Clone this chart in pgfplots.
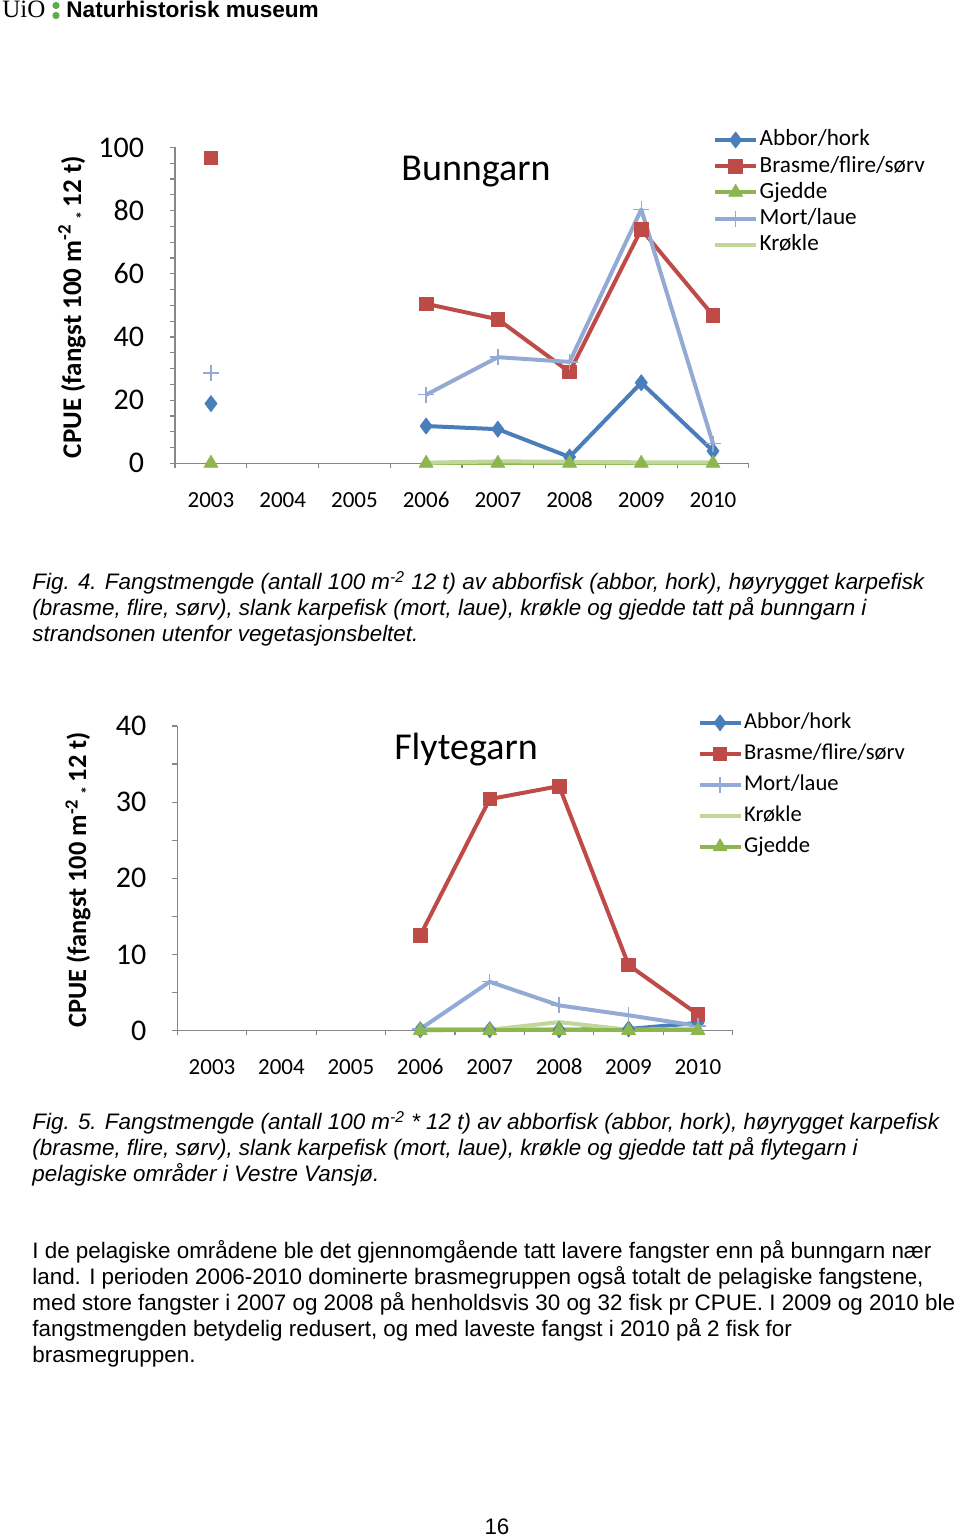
\documentclass[border=0pt]{standalone}
\usepackage{fontspec}
\setmainfont{Liberation Sans}
\newfontfamily\calfont{Carlito}
\newfontfamily\uiofont{Liberation Serif}
\usepackage{pgfplots}
\pgfplotsset{compat=1.18}
\usepackage{pgfplotstable}

\definecolor{abbor}{HTML}{4A7EBB}
\definecolor{brasme}{HTML}{BE4B48}
\definecolor{gjedde}{HTML}{8DB64E}
\definecolor{mort}{HTML}{93AAD4}
\definecolor{krokle}{HTML}{C0D69A}
\definecolor{axisgray}{HTML}{878787}
\definecolor{uiogreen}{HTML}{5DAE45}

\pgfplotstableread{
year abbor brasme gjedde mort krokle
2003 18.9 96.7 0 28.6 nan
2004 nan nan nan nan nan
2005 nan nan nan nan nan
2006 11.8 50.5 0 21.7 0.2
2007 10.8 45.6 0 33.6 0.6
2008 2.0 28.9 0 32.1 0.5
2009 25.5 74.1 0 80.4 0.3
2010 3.9 46.8 0 6.2 0.3
}\bunn

\pgfplotstableread{
year abbor brasme mort krokle gjedde
2006 0.1 12.5 0.2 0.0 0
2007 0.1 30.4 6.4 0.1 0
2008 0.1 32.1 3.3 1.1 0
2009 0.2 8.6 2.0 0.1 0
2010 1.0 2.1 0.6 0.2 0
}\flyt

\pgfplotsset{
  excel/.style={
    scale only axis,
    axis lines=left,
    axis line style={draw=axisgray, line width=0.6pt, -},
    tick align=outside,
    tick style={draw=axisgray, line width=0.6pt},
    major tick length=2.5pt,
    minor tick length=2.5pt,
    xmin=2002.5, xmax=2010.5,
    xtick={2002.5,2003.5,2004.5,2005.5,2006.5,2007.5,2008.5,2009.5,2010.5},
    xticklabels={},
    extra x ticks={2003,2004,2005,2006,2007,2008,2009,2010},
    extra x tick labels={2003,2004,2005,2006,2007,2008,2009,2010},
    extra x tick style={grid=none, major tick length=0pt,
      xticklabel style={font=\calfont\fontsize{11.5}{13}\selectfont, yshift=-11pt, text height=7.4pt, text depth=0pt}},
    yticklabel style={font=\calfont\fontsize{15}{17}\selectfont, xshift=-9.5pt},
    ymin=0,
    clip=false,
    unbounded coords=jump,
    legend cell align=left,
    legend image code/.code={\draw[mark repeat=2,mark phase=2] plot coordinates {(0pt,0pt) (10.25pt,0pt) (20.5pt,0pt)};},
    every axis plot/.append style={line join=round},
  },
  sAbbor/.style={color=abbor, line width=2pt, mark=diamond*, mark size=4pt, mark options={solid, fill=abbor, line width=0.4pt}},
  sBrasme/.style={color=brasme, line width=2pt, mark=square*, mark size=3.4pt, mark options={solid, fill=brasme, line width=0.4pt}},
  sGjedde/.style={color=gjedde, line width=2pt, mark=triangle*, mark size=4pt, mark options={solid, fill=gjedde, line width=0.4pt}},
  sMort/.style={color=mort, line width=2pt, mark=+, mark size=4pt, mark options={solid, line width=0.7pt}},
  sKrokle/.style={color=krokle, line width=2pt, mark=none},
}

\begin{document}
\begin{tikzpicture}
\path[use as bounding box] (0,0) rectangle (480pt,769.5pt);
\begin{scope}[x=0.5pt,y=-0.5pt,shift={(0pt,769.5pt)}]
  % header
  \node[anchor=base west, inner sep=0pt, font=\uiofont\fontsize{12.5}{14}\selectfont] at (2,18) {UiO};
  \fill[uiogreen] (56,5.5) circle (3.6);
  \fill[uiogreen] (56,15.5) circle (3.6);
  \node[anchor=base west, inner sep=0pt, font=\bfseries\fontsize{11.3}{13}\selectfont] at (66,18) {Naturhistorisk museum};
  % chart titles and y labels
  \node[font=\calfont\fontsize{19}{22}\selectfont] at (476,172) {Bunngarn};
  \node[font=\calfont\fontsize{19}{22}\selectfont] at (466,750) {Flytegarn};
  \node[rotate=90, font=\calfont\bfseries\fontsize{13.5}{15}\selectfont] at (73,307) {CPUE (fangst 100 m\textsuperscript{-2}\,\raisebox{-0.5ex}{\footnotesize *}\,12 t)};
  \node[rotate=90, font=\calfont\bfseries\fontsize{13.2}{15}\selectfont] at (79,880) {CPUE (fangst 100 m\textsuperscript{-2}\,\raisebox{-0.5ex}{\footnotesize *}\,12 t)};
  % captions
  \begin{scope}[every node/.style={anchor=base west, inner sep=0pt, font=\itshape\fontsize{11.2}{13}\selectfont}]
    \node at (32,590) {Fig. 4. Fangstmengde (antall 100 m\textsuperscript{-2} 12 t) av abborfisk (abbor, hork), høyrygget karpefisk};
    \node at (32,616) {(brasme, flire, sørv), slank karpefisk (mort, laue), krøkle og gjedde tatt på bunngarn i};
    \node at (32,642) {strandsonen utenfor vegetasjonsbeltet.};
    \node at (32,1130) {Fig. 5. Fangstmengde (antall 100 m\textsuperscript{-2} * 12 t) av abborfisk (abbor, hork), høyrygget karpefisk};
    \node at (32,1156) {(brasme, flire, sørv), slank karpefisk (mort, laue), krøkle og gjedde tatt på flytegarn i};
    \node at (32,1182) {pelagiske områder i Vestre Vansjø.};
  \end{scope}
  \begin{scope}[every node/.style={anchor=base west, inner sep=0pt, font=\fontsize{11.2}{13}\selectfont}]
    \node at (32,1259) {I de pelagiske områdene ble det gjennomgående tatt lavere fangster enn på bunngarn nær};
    \node at (32,1285) {land. I perioden 2006-2010 dominerte brasmegruppen også totalt de pelagiske fangstene,};
    \node at (32,1311) {med store fangster i 2007 og 2008 på henholdsvis 30 og 32 fisk pr CPUE. I 2009 og 2010 ble};
    \node at (32,1337) {fangstmengden betydelig redusert, og med laveste fangst i 2010 på 2 fisk for};
    \node at (32,1363) {brasmegruppen.};
  \end{scope}
  \node[anchor=base, inner sep=0pt, font=\fontsize{11.2}{13}\selectfont] at (497,1535) {16};
\end{scope}

% Chart 1: Bunngarn
\begin{axis}[excel,
  at={(87.55pt,537.85pt)}, anchor=south west,
  width=286.9pt, height=157.9pt,
  ymax=100,
  ytick={0,20,40,60,80,100},
  yticklabels={0,20,40,60,80,100},
  minor y tick num=3,
  legend style={draw=none, fill=none, at={(axis description cs:0.937,1.060)}, anchor=north west,
    font=\calfont\fontsize{11.6}{13}\selectfont, inner sep=0pt, row sep=2.1pt,
    nodes={inner xsep=0.8pt, inner ysep=0pt, text height=8.5pt, text depth=2.5pt}},
]
\addplot[sAbbor] table[x=year,y=abbor] {\bunn};
\addlegendentry{Abbor/hork}
\addplot[sBrasme] table[x=year,y=brasme] {\bunn};
\addlegendentry{Brasme/flire/sørv}
\addplot[sGjedde] table[x=year,y=gjedde] {\bunn};
\addlegendentry{Gjedde}
\addplot[sMort] table[x=year,y=mort] {\bunn};
\addlegendentry{Mort/laue}
\addplot[sKrokle] table[x=year,y=krokle] {\bunn};
\addlegendentry{Krøkle}
\end{axis}

% Chart 2: Flytegarn
\begin{axis}[excel,
  at={(88.65pt,254.25pt)}, anchor=south west,
  width=277.7pt, height=152.25pt,
  ymax=40,
  ytick={0,10,20,30,40},
  yticklabels={0,10,20,30,40},
  minor y tick num=1,
  legend style={draw=none, fill=none, at={(axis description cs:0.936,1.048)}, anchor=north west,
    font=\calfont\fontsize{11.3}{13}\selectfont, inner sep=0pt, row sep=4.5pt,
    nodes={inner xsep=0.8pt, inner ysep=0pt, text height=8.5pt, text depth=2.5pt}},
]
\addplot[sAbbor] table[x=year,y=abbor] {\flyt};
\addlegendentry{Abbor/hork}
\addplot[sBrasme] table[x=year,y=brasme] {\flyt};
\addlegendentry{Brasme/flire/sørv}
\addplot[sMort] table[x=year,y=mort] {\flyt};
\addlegendentry{Mort/laue}
\addplot[sKrokle] table[x=year,y=krokle] {\flyt};
\addlegendentry{Krøkle}
\addplot[sGjedde] table[x=year,y=gjedde] {\flyt};
\addlegendentry{Gjedde}
\end{axis}
\end{tikzpicture}
\end{document}
